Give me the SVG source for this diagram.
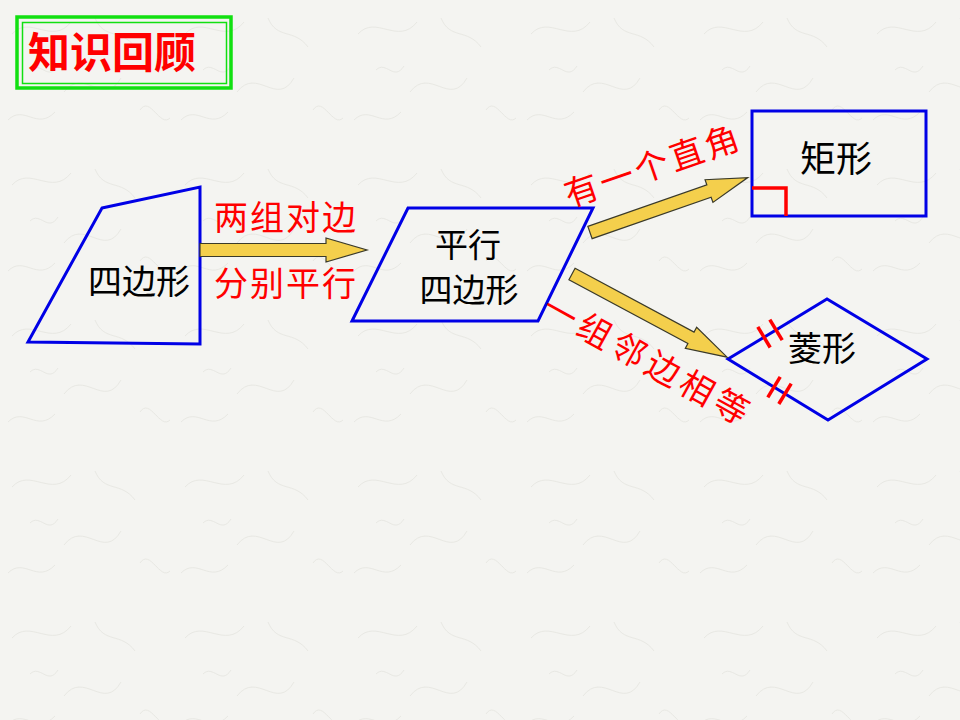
<svg xmlns="http://www.w3.org/2000/svg" width="960" height="720" viewBox="0 0 960 720">
<defs>
<pattern id="paper" width="173" height="151" patternUnits="userSpaceOnUse">
<rect width="173" height="151" fill="#f4f4f1"/>
<path d="M12,34 C30,14 52,46 71,22 M64,92 C84,66 104,108 121,78 M8,120 C24,104 37,131 55,112 M95,18 C104,40 121,28 135,47 M140,110 C150,95 160,128 170,118 M30,70 C40,60 48,82 58,66" fill="none" stroke="#e8e8e3" stroke-width="1"/>
</pattern>
<style>
.shape{fill:none;stroke:#0000e6;stroke-width:3;stroke-linejoin:miter}
.lbl{font-family:"Noto Sans CJK SC","Noto Sans CJK JP",sans-serif;font-size:34px;fill:#000}
.red{font-family:"Noto Sans CJK SC","Noto Sans CJK JP",sans-serif;font-size:34px;fill:#ff0000;letter-spacing:2px}
.arrow{fill:#f4cf4c;stroke:#3a3a2a;stroke-width:1.2;stroke-linejoin:miter}
.mark{stroke:#ff0000;stroke-width:3.5;fill:none}
</style>
</defs>
<rect width="960" height="720" fill="url(#paper)"/>

<g id="title">
<rect x="17" y="17" width="214" height="71" fill="none" stroke="#11e011" stroke-width="3.5"/>
<rect x="22.5" y="22.5" width="204" height="61" fill="none" stroke="#11e011" stroke-width="1.5"/>
<text x="28" y="68" style="font-family:'Noto Sans CJK SC','Noto Sans CJK JP',sans-serif;font-size:42px;font-weight:bold;fill:#ff0000">知识回顾</text>
</g>

<g id="quadrilateral">
<polygon class="shape" points="102,208 200,187 200,344 28,342"/>
<text class="lbl" x="139" y="294" text-anchor="middle">四边形</text>
</g>

<g id="parallelogram">
<polygon class="shape" points="408,208 593,208 538,321 352,321"/>
<text class="lbl" x="468" y="257" text-anchor="middle" style="font-size:33px">平行</text>
<text class="lbl" x="469" y="302" text-anchor="middle" style="font-size:33px">四边形</text>
</g>

<g id="rectangle">
<rect class="shape" x="752" y="111" width="174" height="105"/>
<polyline class="mark" points="752,188 786,188 786,216"/>
<text class="lbl" x="836" y="172" text-anchor="middle" style="font-size:36px">矩形</text>
</g>

<g id="rhombus">
<polygon class="shape" points="728,359 827,299 927,359 828,420"/>
<line class="mark" x1="757.8" y1="326.9" x2="770.2" y2="347.5"/>
<line class="mark" x1="769.8" y1="319.6" x2="782.2" y2="340.2"/>
<line class="mark" x1="780.2" y1="376.9" x2="767.8" y2="397.3"/>
<line class="mark" x1="791.2" y1="383.6" x2="778.8" y2="404.0"/>
<text class="lbl" x="822" y="361" text-anchor="middle">菱形</text>
</g>

<g id="connectors">
<path class="arrow" transform="translate(200,250)" d="M0,-6.5 L126,-6.5 L126,-12 L167,0 L126,12 L126,6.5 L0,6.5 Z"/>
<path class="arrow" transform="translate(590,232.5) rotate(-19.2)" d="M0,-6.5 L126,-6.5 L126,-12 L167,0 L126,12 L126,6.5 L0,6.5 Z"/>
<path class="arrow" transform="translate(572,274) rotate(28.2)" d="M0,-6.5 L135,-6.5 L135,-12 L176,0 L135,12 L135,6.5 L0,6.5 Z"/>
<text class="red" x="286" y="230" text-anchor="middle">两组对边</text>
<text class="red" x="286" y="296" text-anchor="middle">分别平行</text>
<text class="red" transform="translate(653,166) rotate(-19)" x="0" y="12" text-anchor="middle" style="letter-spacing:3px">有一个直角</text>
<text class="red" transform="translate(648,361) rotate(29)" x="0" y="12" text-anchor="middle" style="letter-spacing:5px">一组邻边相等</text>
</g>
</svg>
